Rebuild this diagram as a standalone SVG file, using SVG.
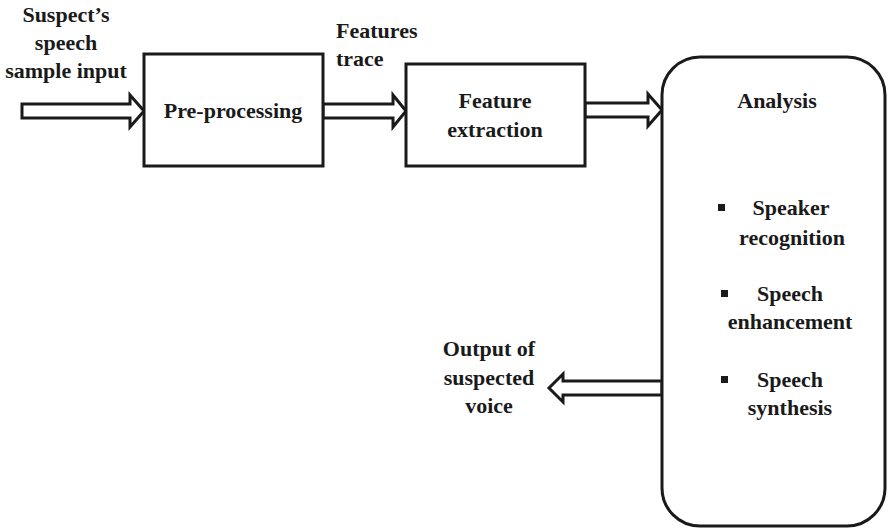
<svg xmlns="http://www.w3.org/2000/svg" width="888" height="528" viewBox="0 0 888 528">
  <style>
    .box { fill: #ffffff; stroke: #1a1a1a; stroke-width: 3; }
    .arrow { fill: #ffffff; stroke: #1a1a1a; stroke-width: 3; stroke-linejoin: miter; }
    .lbl { font-weight: bold; font-size: 22px; fill: #1a1a1a; }
    .mid { text-anchor: middle; }
    .bullet { fill: #1a1a1a; }
  </style>
  <rect width="888" height="528" fill="#ffffff"/>

  <!-- block arrows between stages -->
  <g id="connectors">
    <polygon class="arrow" points="22,104 130,104 130,95 144,111 130,127 130,118 22,118"/>
    <polygon class="arrow" points="323,104 393,104 393,95 406,111 393,127 393,118 323,118"/>
    <polygon class="arrow" points="585,103 648,103 648,94 662,110 648,126 648,117 585,117"/>
    <polygon class="arrow" points="662,381 563,381 563,374 549,388 563,402 563,395 662,395"/>
  </g>

  <g font-family="'Liberation Serif', 'DejaVu Serif', serif">
    <g id="input-label">
      <text class="lbl mid" x="66" y="22">Suspect’s</text>
      <text class="lbl mid" x="66" y="50">speech</text>
      <text class="lbl mid" x="66" y="78">sample input</text>
    </g>

    <g id="preprocessing">
      <rect class="box" x="144" y="54" width="179" height="112"/>
      <text class="lbl mid" x="233" y="118">Pre-processing</text>
    </g>

    <g id="features-trace-label">
      <text class="lbl" x="336" y="38">Features</text>
      <text class="lbl" x="336" y="66">trace</text>
    </g>

    <g id="feature-extraction">
      <rect class="box" x="406" y="64" width="179" height="102"/>
      <text class="lbl mid" x="495" y="108">Feature</text>
      <text class="lbl mid" x="495" y="137">extraction</text>
    </g>

    <g id="analysis">
      <rect class="box" x="662" y="57" width="223" height="469" rx="38" ry="38"/>
      <text class="lbl mid" x="777" y="108">Analysis</text>
      <rect class="bullet" x="718" y="204" width="7" height="7"/>
      <text class="lbl mid" x="791" y="215">Speaker</text>
      <text class="lbl mid" x="792" y="245">recognition</text>
      <rect class="bullet" x="721" y="290" width="7" height="7"/>
      <text class="lbl mid" x="790" y="301">Speech</text>
      <text class="lbl mid" x="790" y="329">enhancement</text>
      <rect class="bullet" x="721" y="376" width="7" height="7"/>
      <text class="lbl mid" x="790" y="387">Speech</text>
      <text class="lbl mid" x="790" y="415">synthesis</text>
    </g>

    <g id="output-label">
      <text class="lbl mid" x="489" y="356">Output of</text>
      <text class="lbl mid" x="489" y="385">suspected</text>
      <text class="lbl mid" x="489" y="413">voice</text>
    </g>
  </g>
</svg>
